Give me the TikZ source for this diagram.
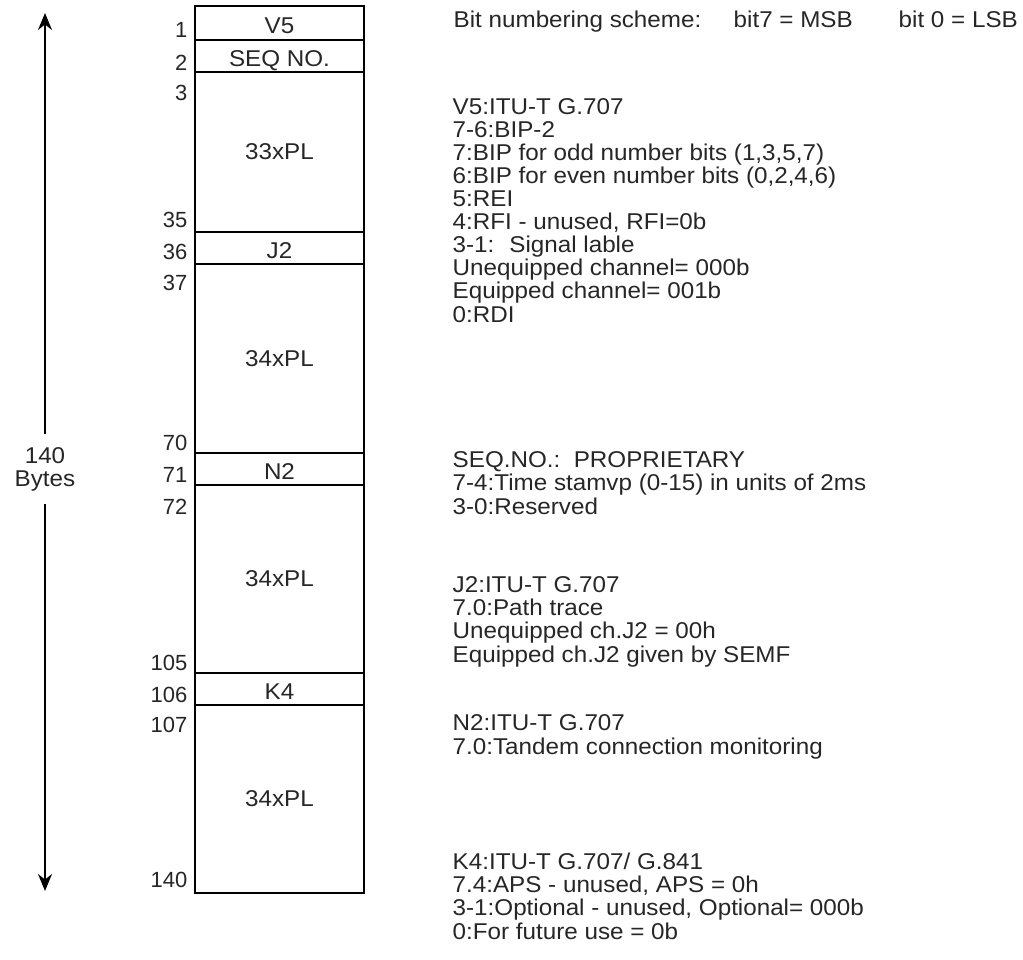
\documentclass[tikz,border=0pt]{standalone}
\usepackage{fontspec}
\setmainfont{Liberation Sans}
\newfontfamily\widesans{Liberation Sans}[FakeStretch=1.06]
\usetikzlibrary{positioning, arrows.meta}

\begin{document}
\begin{tikzpicture}[x=0.02cm, y=-0.02cm, line width=0.8pt,
  every node/.style={font=\widesans\fontsize{13}{13.1}\selectfont, text=black!85},
  field/.style={draw, minimum width=3.38cm, inner sep=0pt, outer sep=0pt},
  slot/.style={field, minimum height=0.64cm, text height=0.43cm, text depth=0pt},
  num/.style={anchor=east, inner sep=0pt, font=\fontsize{12.5}{13}\selectfont},
  note/.style={anchor=base west, align=left, inner sep=0pt},
  tip/.style={-{Stealth[length=3.4mm, width=2.8mm]}}]
  \useasboundingbox (0,0) rectangle (1023,959);

  % frame fields
  \node[slot, minimum height=0.68cm, anchor=north west] (v5) at (195,6) {V5};
  \node[slot, below=0pt of v5] (seq) {SEQ NO.};
  \node[field, minimum height=3.2cm, below=0pt of seq] (pl1) {33xPL};
  \node[slot, below=0pt of pl1] (j2) {J2};
  \node[field, minimum height=3.78cm, below=0pt of j2] (pl2) {34xPL};
  \node[slot, below=0pt of pl2] (n2) {N2};
  \node[field, minimum height=3.76cm, below=0pt of n2] (pl3) {34xPL};
  \node[slot, below=0pt of pl3] (k4) {K4};
  \node[field, minimum height=3.76cm, below=0pt of k4] (pl4) {34xPL};

  % byte numbers
  \foreach \n/\y in {1/30, 2/63, 3/93, 35/220, 36/252, 37/283, 70/443, 71/475,
                     72/507, 105/663, 106/695, 107/725, 140/880}
    \node[num] (b\n) at (188,\y) {\n};

  % total length
  \node[align=center, inner xsep=0pt, inner ysep=0.24cm] (bytes) at (45,469) {140\\Bytes};
  \coordinate (top) at (45,13);
  \coordinate (bot) at (45,891);
  \draw[tip] (bytes.north) -- (top);
  \draw[tip] (bytes.south) -- (bot);

  % notes (base = last line)
  \node[note] (scheme) at (453,28) {Bit numbering scheme:};
  \node[note] (msb) at (733,28) {bit7 = MSB};
  \node[note] (lsb) at (898,28) {bit 0 = LSB};
  \node[note] (v5note) at (452,322) {V5:ITU-T G.707\\7-6:BIP-2\\
    7:BIP for odd number bits (1,3,5,7)\\6:BIP for even number bits (0,2,4,6)\\
    5:REI\\4:RFI - unused, RFI=0b\\3-1:\hspace{0.3cm}Signal lable\\
    Unequipped channel= 000b\\Equipped channel= 001b\\0:RDI};
  \node[note] (seqnote) at (452,514) {SEQ.NO.:\ \ PROPRIETARY\\
    7-4:Time stamvp (0-15) in units of 2ms\\3-0:Reserved};
  \node[note] (j2note) at (452,662) {J2:ITU-T G.707\\7.0:Path trace\\
    Unequipped ch.J2 = 00h\\Equipped ch.J2 given by SEMF};
  \node[note] (n2note) at (452,754) {N2:ITU-T G.707\\7.0:Tandem connection monitoring};
  \node[note] (k4note) at (452,939) {K4:ITU-T G.707/ G.841\\7.4:APS - unused, APS = 0h\\
    3-1:Optional - unused, Optional= 000b\\0:For future use = 0b};
\end{tikzpicture}
\end{document}
